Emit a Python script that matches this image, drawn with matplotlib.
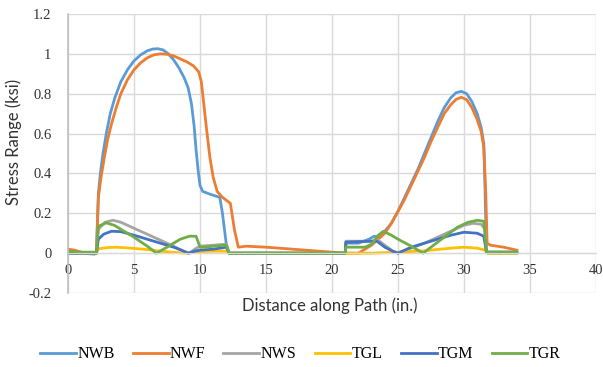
import matplotlib
matplotlib.use('Agg')
import matplotlib.pyplot as plt

# --- values
nwb_x = [0, 1, 2, 2.15, 2.3, 2.45, 2.65, 2.9, 3.2, 3.55, 4, 4.5, 5, 5.5, 6, 6.4, 6.8, 7.2, 7.6,
         8, 8.4, 8.8, 9.1, 9.35, 9.55, 9.7, 9.85, 10.0, 10.2, 10.8, 11.5, 11.7, 12.0, 12.2, 13,
         21, 21.05, 22, 22.8, 23.2, 23.6, 24, 24.5, 25, 25.5, 26, 26.5, 27, 27.5, 28, 28.5, 29,
         29.4, 29.8, 30.2, 30.6, 31, 31.3, 31.5, 31.6, 31.7, 31.8, 34]
nwb_y = [0, 0, -0.005, 0, 0.3, 0.4, 0.5, 0.6, 0.7, 0.78, 0.86, 0.92, 0.965, 0.995, 1.015, 1.024,
         1.026, 1.02, 1.0, 0.97, 0.93, 0.88, 0.83, 0.75, 0.64, 0.52, 0.42, 0.34, 0.31, 0.295,
         0.28, 0.2, 0.04, 0, 0, 0, 0.05, 0.05, 0.07, 0.085, 0.08, 0.11, 0.15, 0.21, 0.28, 0.35,
         0.42, 0.5, 0.58, 0.66, 0.73, 0.78, 0.805, 0.812, 0.8, 0.76, 0.7, 0.63, 0.55, 0.3, 0.01,
         0, 0]

nwf_x = [0, 0.5, 1, 1.5, 2.15, 2.3, 2.5, 2.75, 3, 3.3, 3.65, 4, 4.5, 5, 5.5, 6, 6.5, 7, 7.5, 8,
         8.5, 9, 9.5, 9.9, 10.1, 10.3, 10.5, 10.75, 11, 11.3, 11.7, 12.3, 12.6, 12.9, 13.5, 15,
         17, 19, 21, 22, 23, 23.5, 24, 24.5, 25, 25.5, 26, 26.5, 27, 27.5, 28, 28.5, 29, 29.4,
         29.8, 30.2, 30.6, 31, 31.3, 31.5, 31.65, 31.75, 32, 33, 34]
nwf_y = [0.02, 0.015, 0.005, 0, 0, 0.28, 0.38, 0.48, 0.57, 0.65, 0.73, 0.8, 0.87, 0.92, 0.955,
         0.98, 0.995, 1.0, 0.998, 0.99, 0.975, 0.96, 0.94, 0.91, 0.86, 0.74, 0.62, 0.48, 0.38,
         0.31, 0.28, 0.25, 0.12, 0.03, 0.035, 0.03, 0.02, 0.01, 0, 0, 0.04, 0.07, 0.1, 0.15,
         0.21, 0.27, 0.34, 0.41, 0.48, 0.56, 0.63, 0.7, 0.745, 0.772, 0.782, 0.77, 0.73, 0.67,
         0.61, 0.53, 0.3, 0.05, 0.04, 0.03, 0.015]

nws_x = [0, 2.15, 2.3, 2.8, 3.4, 4, 5, 6, 7, 8, 8.7, 9.2, 9.6, 10, 11, 12, 12.2, 21, 21.05, 23,
         23.5, 24, 24.6, 25, 26, 27, 28, 29, 30, 30.7, 31.3, 31.6, 31.7, 34]
nws_y = [0, 0, 0.12, 0.155, 0.165, 0.155, 0.125, 0.095, 0.065, 0.035, 0.01, 0, 0.02, 0.035,
         0.04, 0.045, 0, 0, 0.06, 0.06, 0.065, 0.04, 0.01, 0, 0.025, 0.05, 0.08, 0.11, 0.14,
         0.15, 0.145, 0.12, 0.005, 0.005]

tgl_x = [0, 2.15, 2.3, 3, 3.7, 5, 6, 7, 8, 9, 10, 11, 12, 12.3, 21, 23, 25, 27, 29, 30, 31,
         31.6, 31.8, 34]
tgl_y = [0, 0, 0.022, 0.028, 0.03, 0.024, 0.018, 0.01, 0.004, 0, 0.008, 0.01, 0.01, 0, 0, 0,
         0.005, 0.012, 0.025, 0.03, 0.025, 0.015, 0, 0]

tgm_x = [0, 2.15, 2.3, 2.7, 3.3, 4, 5, 6, 7, 8, 8.6, 9.1, 9.6, 10, 11, 12, 12.2, 21, 21.05, 23,
         23.4, 24, 24.6, 25, 26, 27, 28, 29, 30, 31, 31.5, 31.7, 34]
tgm_y = [0, 0, 0.07, 0.095, 0.11, 0.108, 0.09, 0.07, 0.05, 0.03, 0.015, 0, 0.01, 0.015, 0.02,
         0.03, 0, 0, 0.055, 0.06, 0.06, 0.03, 0.01, 0, 0.03, 0.05, 0.07, 0.09, 0.105, 0.1,
         0.085, 0.005, 0.005]

tgr_x = [0, 1, 2.15, 2.3, 2.9, 3.5, 4, 5, 6, 6.7, 7.5, 8.5, 9.2, 9.7, 10, 10.5, 11, 12, 12.2,
         21, 21.05, 22.5, 23, 23.5, 23.9, 24.5, 25, 26, 26.9, 27.5, 28.5, 29.5, 30.3, 31, 31.5,
         31.7, 34]
tgr_y = [0.01, 0.005, 0.005, 0.135, 0.152, 0.14, 0.12, 0.08, 0.035, 0, 0.03, 0.07, 0.085, 0.085,
         0.03, 0.03, 0.035, 0.04, 0, 0, 0.03, 0.03, 0.045, 0.09, 0.11, 0.09, 0.07, 0.035, 0,
         0.03, 0.08, 0.13, 0.155, 0.165, 0.16, 0.005, 0.005]

series = [('NWB', nwb_x, nwb_y, '#5B9BD5'),
          ('NWF', nwf_x, nwf_y, '#ED7D31'),
          ('NWS', nws_x, nws_y, '#A5A5A5'),
          ('TGL', tgl_x, tgl_y, '#FFC000'),
          ('TGM', tgm_x, tgm_y, '#4472C4'),
          ('TGR', tgr_x, tgr_y, '#70AD47')]

x_ticks = [0, 5, 10, 15, 20, 25, 30, 35, 40]
y_ticks = [-0.2, 0, 0.2, 0.4, 0.6, 0.8, 1, 1.2]
y_tick_labels = ['-0.2', '0', '0.2', '0.4', '0.6', '0.8', '1', '1.2']

fig = plt.figure(figsize=(6.03, 3.67), dpi=100)
ax = fig.add_axes([0.1128, 0.2016, 0.8756, 0.7602])

for name, xs, ys, color in series:
    ax.plot(xs, ys, color=color, lw=2, label=name, solid_joinstyle='round')

ax.set_xlim(0, 40)
ax.set_ylim(-0.2, 1.2)
ax.set_xticks(x_ticks)
ax.set_yticks(y_ticks)
ax.set_yticklabels(y_tick_labels)
ax.grid(True, color='#D9D9D9', lw=1)
ax.set_axisbelow(True)

for side in ['top', 'right']:
    ax.spines[side].set_visible(False)
ax.spines['left'].set_color('#BFBFBF')
ax.spines['left'].set_linewidth(1.2)
ax.spines['bottom'].set_position(('data', 0))
ax.spines['bottom'].set_color('#D9D9D9')

ax.tick_params(axis='both', length=0, labelsize=10.5, colors='#000000')
ax.tick_params(axis='x', pad=8)
ax.tick_params(axis='y', pad=12)
for lbl in ax.get_xticklabels() + ax.get_yticklabels():
    lbl.set_family('Liberation Serif')
    lbl.set_color('#333333')

ax.set_ylabel('Stress Range (ksi)', family='Lato', fontsize=12, color='#333333')
ax.yaxis.set_label_coords(-0.087, 0.54)
ax.set_xlabel('Distance along Path (in.)', family='Lato', fontsize=12, color='#333333')
ax.xaxis.set_label_coords(0.496, -0.045)
ax.xaxis.label.set_va('center')

fig.legend(loc='center', bbox_to_anchor=(0.498, 0.035), ncol=6, frameon=False,
           handlelength=2.25, handletextpad=0.08, columnspacing=1.13,
           prop={'family': 'Liberation Serif', 'size': 11.5})

plt.savefig('out.png', dpi=100)
